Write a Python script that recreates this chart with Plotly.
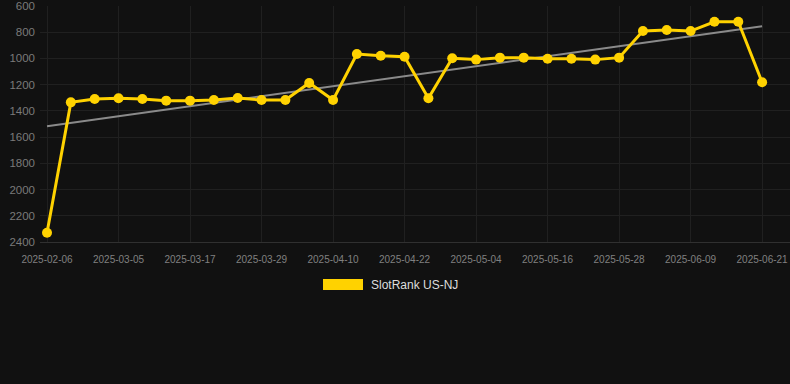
import numpy as np
import plotly.graph_objects as go

dates = ["2025-02-06", "2025-02-25", "2025-03-01", "2025-03-05", "2025-03-09", "2025-03-13",
         "2025-03-17", "2025-03-21", "2025-03-25", "2025-03-29", "2025-04-02", "2025-04-06",
         "2025-04-10", "2025-04-14", "2025-04-18", "2025-04-22", "2025-04-26", "2025-04-30",
         "2025-05-04", "2025-05-08", "2025-05-12", "2025-05-16", "2025-05-20", "2025-05-24",
         "2025-05-28", "2025-06-01", "2025-06-05", "2025-06-09", "2025-06-13", "2025-06-17",
         "2025-06-21"]
ranks = [2329, 1335, 1309, 1304, 1309, 1322, 1322, 1317, 1302, 1317, 1317, 1187, 1317,
         966, 979, 987, 1304, 999, 1009, 994, 994, 1002, 1002, 1009, 994, 791, 783, 791,
         720, 720, 1182]
tick_labels = dates[::3]
y_ticks = [600, 800, 1000, 1200, 1400, 1600, 1800, 2000, 2200, 2400]
series_name = "SlotRank US-NJ"

idx = np.arange(len(ranks))
slope, intercept = np.polyfit(idx, ranks, 1)
trend = [intercept, intercept + slope * idx[-1]]

GOLD = "#ffd200"
fig = go.Figure()
fig.add_trace(go.Scatter(x=[dates[0], dates[-1]], y=trend, mode="lines",
                         line=dict(color="#8a8a8a", width=2), showlegend=False,
                         hoverinfo="skip"))
fig.add_trace(go.Scatter(x=dates, y=ranks, mode="lines+markers", name=series_name,
                         line=dict(color=GOLD, width=3),
                         marker=dict(color=GOLD, size=10), showlegend=False))

# manual legend
fig.add_shape(type="rect", xref="paper", yref="paper",
              x0=(323 - 40) / 750, x1=(363 - 40) / 750,
              y0=(242 - 290) / 236, y1=(242 - 279) / 236,
              fillcolor=GOLD, line=dict(width=0))
fig.add_annotation(text=series_name, xref="paper", yref="paper",
                   x=(369 - 40) / 750, y=(242 - 284.5) / 236,
                   xanchor="left", yanchor="middle", showarrow=False,
                   font=dict(size=12, color="#dddddd"))

fig.update_layout(
    width=790, height=384,
    margin=dict(l=40, r=0, t=6, b=142),
    paper_bgcolor="#111111", plot_bgcolor="#111111",
    font=dict(family="Arial, Liberation Sans, sans-serif", color="#888888"),
    showlegend=False,
)
fig.update_xaxes(type="category", categoryorder="array", categoryarray=dates,
                 range=[-0.294, 31.17],
                 tickmode="array", tickvals=tick_labels, ticktext=tick_labels,
                 tickfont=dict(size=10, color="#808080"),
                 showgrid=True, gridcolor="#202020", gridwidth=1,
                 showline=True, linecolor="#303030", linewidth=1,
                 zeroline=False, ticks="", ticklen=0, ticklabelstandoff=8)
fig.update_yaxes(range=[2400, 600], tickvals=y_ticks,
                 tickfont=dict(size=11.5, color="#7a7a7a"),
                 showgrid=True, gridcolor="#202020", gridwidth=1,
                 zeroline=False, ticks="", ticklabelstandoff=4)

fig.write_html("out.html", config={"displayModeBar": False},
               post_script="document.body.style.margin='0px';document.body.style.background='#111111';")
